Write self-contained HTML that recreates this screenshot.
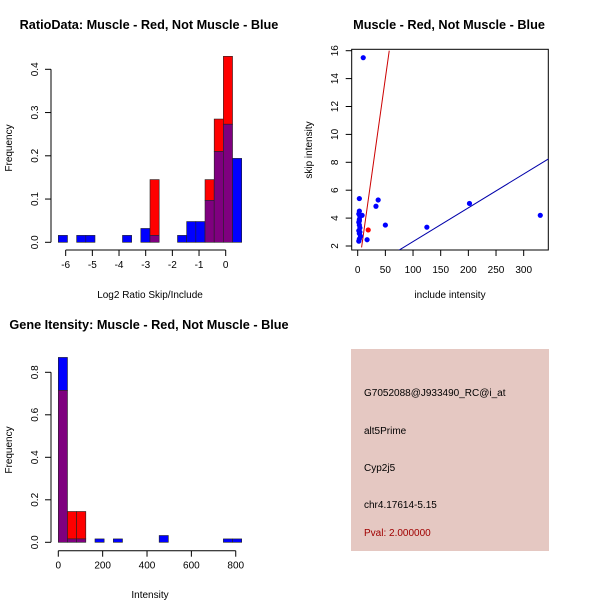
<!DOCTYPE html>
<html><head><meta charset="utf-8"><style>
html,body{margin:0;padding:0;background:#fff}
svg{display:block;font-family:"Liberation Sans",Arial,sans-serif}
</style></head><body>
<svg id="s" width="600" height="600" viewBox="0 0 600 600">
<rect width="600" height="600" fill="#fff"/>
<text x="149" y="29" font-size="12.7" font-weight="bold" text-anchor="middle">RatioData: Muscle - Red, Not Muscle - Blue</text>
<text x="449" y="29" font-size="12.7" font-weight="bold" text-anchor="middle">Muscle - Red, Not Muscle - Blue</text>
<text x="149" y="329" font-size="12.7" font-weight="bold" text-anchor="middle">Gene Itensity: Muscle - Red, Not Muscle - Blue</text>
<text x="150" y="298" font-size="10" text-anchor="middle">Log2 Ratio Skip/Include</text>
<text x="450" y="298" font-size="10" text-anchor="middle">include intensity</text>
<text x="150" y="598" font-size="10" text-anchor="middle">Intensity</text>
<text transform="translate(12,148) rotate(-90)" font-size="10" text-anchor="middle">Frequency</text>
<text transform="translate(312,150) rotate(-90)" font-size="10" text-anchor="middle">skip intensity</text>
<text transform="translate(12,450) rotate(-90)" font-size="10" text-anchor="middle">Frequency</text>
<g id="p1"></g>
<g id="p2"></g>
<g id="p3"></g>
<g>
<rect x="351" y="349" width="198" height="202" fill="#e5c8c2"/>
<text x="364" y="396" font-size="10">G7052088@J933490_RC@i_at</text>
<text x="364" y="434" font-size="10">alt5Prime</text>
<text x="364" y="471" font-size="10">Cyp2j5</text>
<text x="364" y="508" font-size="10">chr4.17614-5.15</text>
<text x="364" y="536" font-size="10" fill="#a00000">Pval: 2.000000</text>
</g>
</svg>
<script>
// Ratio histogram data (bin index -> frequency)
const ratioBlue=[0.016,0,0.016,0.016,0,0,0,0.016,0,0.032,0.016,0,0,0.016,0.048,0.048,0.097,0.21,0.273,0.194];
const ratioRed=[0,0,0,0,0,0,0,0,0,0,0.145,0,0,0,0,0,0.145,0.285,0.43,0];
const ratioXTicks=[-6,-5,-4,-3,-2,-1,0];
const ratioYTicks=[0,0.1,0.2,0.3,0.4];
// Scatter data
const scatterX=[10,3,33,37,50,125,202,330,17,3,2,4,3,2,3,4,2,3,5,8,3,2,4,3];
const scatterY=[15.5,5.4,4.85,5.3,3.5,3.35,5.05,4.2,2.45,4.5,4.3,4.1,3.9,3.7,3.5,3.3,3.1,2.9,2.7,4.2,2.5,2.35,3.0,3.8];
const redX=[19];const redY=[3.15];
const blueLine=[[74.6,1.7],[345,8.25]];
const redLine=[[7,1.9],[57,16]];
const scatterXTicks=[0,50,100,150,200,250,300];
const scatterYTicks=[2,4,6,8,10,12,14,16];
// Intensity histogram
const intBlue=[0.87,0.016,0.016,0,0.016,0,0.016,0,0,0,0,0.032,0,0,0,0,0,0,0.016,0.016];
const intRed=[0.715,0.145,0.145,0,0,0,0,0,0,0,0,0,0,0,0,0,0,0,0,0];
const intXTicks=[0,200,400,600,800];
const intYTicks=[0,0.2,0.4,0.6,0.8];

const NS='http://www.w3.org/2000/svg';
function mk(p,t,a){const e=document.createElementNS(NS,t);for(const k in a)e.setAttribute(k,a[k]);p.appendChild(e);return e;}
function fmt1(v){return v.toFixed(1);}

function hist(g,blue,red,x0,bw,yF,xAxY,xTicks,xF,yTicks){
  for(let i=0;i<blue.length;i++){
    const b=blue[i],r=red[i],x=x0+i*bw;
    const lo=Math.min(b,r),hi=Math.max(b,r);
    if(hi>lo){const e=mk(g,'rect',{x:x,y:yF(hi),width:bw,height:yF(lo)-yF(hi),fill:b>r?'#0000ff':'#ff0000',stroke:'#222','stroke-width':0.6});
      }
    if(lo>0){const e=mk(g,'rect',{x:x,y:yF(lo),width:bw,height:yF(0)-yF(lo),fill:'#7f007f',stroke:'#222','stroke-width':0.6});
      }
  }
  mk(g,'line',{x1:xF(xTicks[0]),x2:xF(xTicks[xTicks.length-1]),y1:xAxY,y2:xAxY,stroke:'#000'});
  xTicks.forEach(t=>{mk(g,'line',{x1:xF(t),x2:xF(t),y1:xAxY,y2:xAxY+6,stroke:'#000'});
    const e=mk(g,'text',{x:xF(t),y:xAxY+18,'font-size':10,'text-anchor':'middle'});e.textContent=t;
    });
  mk(g,'line',{x1:51,x2:51,y1:yF(yTicks[0]),y2:yF(yTicks[yTicks.length-1]),stroke:'#000'});
  yTicks.forEach(t=>{mk(g,'line',{x1:45,x2:51,y1:yF(t),y2:yF(t),stroke:'#000'});
    const e=mk(g,'text',{transform:`translate(38,${yF(t)}) rotate(-90)`,'font-size':10,'text-anchor':'middle'});e.textContent=fmt1(t);
    });
}
const p1=document.getElementById('p1');
hist(p1,ratioBlue,ratioRed,58.3,9.17,v=>242.3-v*432.5,250,ratioXTicks,v=>225.7+v*26.67,ratioYTicks);
const p3=document.getElementById('p3');
hist(p3,intBlue,intRed,58.3,9.17,v=>542.3-v*212.5,550.7,intXTicks,v=>58.3+v*0.2218,intYTicks);
const p2=document.getElementById('p2');
const sx=v=>357.7+v*0.5533, sy=v=>246-(v-2)*13.95;
mk(p2,'rect',{x:351.7,y:49.3,width:196.6,height:200.7,fill:'none',stroke:'#000'});
const cp=mk(p2,'clipPath',{id:'c2'});mk(cp,'rect',{x:351.7,y:49.3,width:196.6,height:200.7});
let l=mk(p2,'line',{x1:sx(blueLine[0][0]),y1:sy(blueLine[0][1]),x2:sx(blueLine[1][0]),y2:sy(blueLine[1][1]),stroke:'#0000aa','clip-path':'url(#c2)'});

l=mk(p2,'line',{x1:sx(redLine[0][0]),y1:sy(redLine[0][1]),x2:sx(redLine[1][0]),y2:sy(redLine[1][1]),stroke:'#cc0000','clip-path':'url(#c2)'});

scatterX.forEach((x,i)=>{const c=mk(p2,'circle',{cx:sx(x),cy:sy(scatterY[i]),r:2.6,fill:'#0000ff'});
  });
redX.forEach((x,i)=>{const c=mk(p2,'circle',{cx:sx(x),cy:sy(redY[i]),r:2.6,fill:'#ff0000'});
  });
scatterXTicks.forEach(t=>{mk(p2,'line',{x1:sx(t),x2:sx(t),y1:250,y2:256,stroke:'#000'});
  const e=mk(p2,'text',{x:sx(t),y:273,'font-size':10,'text-anchor':'middle'});e.textContent=t;
  });
scatterYTicks.forEach(t=>{mk(p2,'line',{x1:345.7,x2:351.7,y1:sy(t),y2:sy(t),stroke:'#000'});
  const e=mk(p2,'text',{transform:`translate(338,${sy(t)}) rotate(-90)`,'font-size':10,'text-anchor':'middle'});e.textContent=t;
  });
</script>
</body></html>
